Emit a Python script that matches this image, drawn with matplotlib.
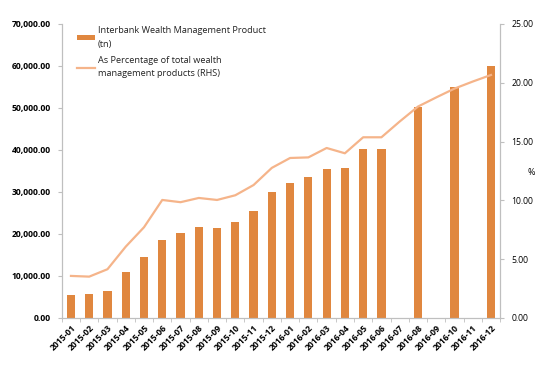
import numpy as np
import matplotlib.pyplot as plt
from matplotlib.ticker import FuncFormatter

plt.rcParams['font.family'] = ['Open Sans', 'DejaVu Sans']

# data
months = ['2015-01', '2015-02', '2015-03', '2015-04', '2015-05', '2015-06',
          '2015-07', '2015-08', '2015-09', '2015-10', '2015-11', '2015-12',
          '2016-01', '2016-02', '2016-03', '2016-04', '2016-05', '2016-06',
          '2016-07', '2016-08', '2016-09', '2016-10', '2016-11', '2016-12']
interbank_wmp = [5500, 5700, 6500, 10900, 14450, 18500,
                 20200, 21750, 21450, 22800, 25550, 30000,
                 32100, 33600, 35400, 35800, 40200, 40200,
                 np.nan, 50200, np.nan, 55000, np.nan, 60000]
pct_total = [3.57, 3.51, 4.14, 6.06, 7.71, 10.03,
             9.84, 10.2, 10.03, 10.43, 11.3, 12.76,
             13.6, 13.65, 14.45, 14.0, 15.36, 15.36,
             16.7, 17.97, 18.75, 19.5, 20.1, 20.66]

bar_color = '#E0873F'
line_color = '#F5B48A'
spine_color = '#BFBFBF'

fig = plt.figure(figsize=(5.52, 3.74), dpi=100)
ax = fig.add_axes([0.112, 0.150, 0.794, 0.786])
ax2 = ax.twinx()

x = np.arange(len(months))
bars = ax.bar(x, interbank_wmp, width=0.45, color=bar_color,
              label='Interbank Wealth Management Product\n(tn)', zorder=2)
line, = ax2.plot(x, pct_total, color=line_color, lw=1.6,
                 label='As Percentage of total wealth\nmanagement products (RHS)')

ax.set_xlim(-0.5, len(months) - 0.5)
ax.set_ylim(0, 70000)
ax.set_yticks(np.arange(0, 70001, 10000))
ax.yaxis.set_major_formatter(FuncFormatter(lambda v, p: f'{v:,.2f}'))
ax2.set_ylim(0, 25)
ax2.set_yticks(np.arange(0, 25.1, 5))
ax2.yaxis.set_major_formatter(FuncFormatter(lambda v, p: f'{v:.2f}'))

ax.set_xticks(x)
ax.set_xticklabels(months, rotation=45, ha='right', rotation_mode='anchor',
                   fontsize=6.2, fontweight='bold')
ax.set_xticks(np.arange(-0.5, len(months), 1), minor=True)
ax.tick_params(axis='x', which='major', length=0, pad=4)
ax.tick_params(axis='x', which='minor', length=3, color=spine_color)
ax.tick_params(axis='y', labelsize=6.2, length=3, color=spine_color, pad=5)
ax2.tick_params(axis='y', labelsize=6.2, length=3, color=spine_color, pad=5)
for lab in ax.get_yticklabels():
    lab.set_fontweight('bold')

for a in (ax, ax2):
    a.spines['top'].set_visible(False)
    for s in ('left', 'right', 'bottom'):
        a.spines[s].set_color(spine_color)
        a.spines[s].set_linewidth(0.8)

ax2.set_ylabel('%', rotation=0, fontsize=6.5, labelpad=8)
ax2.yaxis.set_label_coords(1.07, 0.51)

leg = ax.legend([bars, line], [bars.get_label(), line.get_label()],
                loc='upper left', bbox_to_anchor=(0.015, 1.02), frameon=False,
                fontsize=6.6, handlelength=2.0, handleheight=0.5,
                handletextpad=0.3, labelspacing=0.8)
for t in leg.get_texts():
    t.set_color('#222222')
    t.set_linespacing(1.6)
    t.set_verticalalignment('baseline')

plt.savefig('out.png', dpi=100)
